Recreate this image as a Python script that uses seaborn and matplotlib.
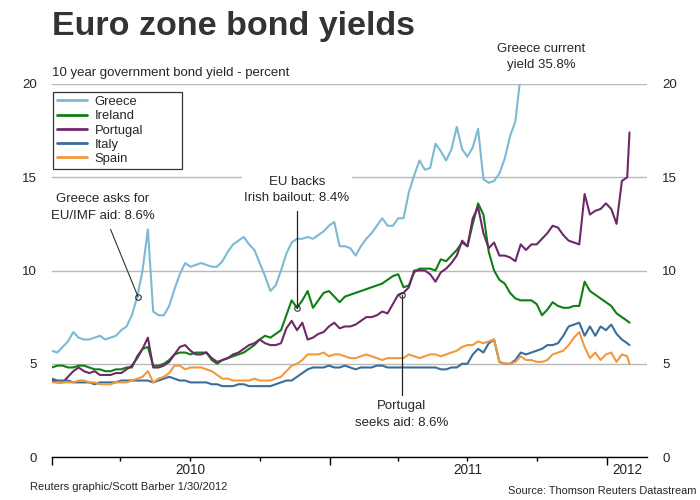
import numpy as np
import pandas as pd
import matplotlib
matplotlib.use("Agg")
import matplotlib.pyplot as plt
import matplotlib.dates as mdates
from matplotlib.lines import Line2D
from matplotlib import font_manager as fm
import seaborn as sns

# ---------------- data (weekly readings, % yield) ----------------
dates = list(pd.date_range("2010-01-01", periods=109, freq="7D")) + [pd.Timestamp("2012-01-30")]

greece = [5.7, 5.6, 5.9, 6.2, 6.7, 6.4, 6.3, 6.3, 6.4, 6.5,
          6.3, 6.4, 6.5, 6.8, 7.0, 7.6, 8.6, 10.0, 12.2, 7.8,
          7.6, 7.6, 8.1, 9.0, 9.8, 10.4, 10.2, 10.3, 10.4, 10.3,
          10.2, 10.2, 10.5, 11.0, 11.4, 11.6, 11.8, 11.4, 11.1, 10.4,
          9.7, 8.9, 9.2, 10.0, 10.9, 11.5, 11.7, 11.7, 11.8, 11.7,
          11.9, 12.1, 12.4, 12.6, 11.3, 11.3, 11.2, 10.8, 11.3, 11.7,
          12.0, 12.4, 12.8, 12.4, 12.4, 12.8, 12.8, 14.2, 15.1, 15.9,
          15.4, 15.5, 16.8, 16.4, 15.9, 16.5, 17.7, 16.5, 16.1, 16.6,
          17.6, 14.9, 14.7, 14.8, 15.2, 16.0, 17.2, 18.0, 20.5, 22.0,
          23.5, 24.0, 24.5, 23.5, 24.5, 25.5, 26.0, 27.0, 28.0, 27.5,
          29.0, 31.0, 32.0, 33.0, 34.0, 33.5, 34.0, 34.5, 35.2, 35.8]

ireland = [4.8, 4.9, 4.9, 4.8, 4.8, 4.9, 4.9, 4.8, 4.7, 4.7,
           4.6, 4.6, 4.7, 4.7, 4.8, 4.8, 5.4, 5.8, 5.9, 4.9,
           4.9, 5.0, 5.2, 5.5, 5.6, 5.6, 5.5, 5.6, 5.6, 5.6,
           5.2, 5.0, 5.2, 5.3, 5.4, 5.5, 5.6, 5.8, 6.0, 6.3,
           6.5, 6.4, 6.6, 6.8, 7.6, 8.4, 8.0, 8.4, 8.9, 8.0,
           8.4, 8.8, 8.9, 8.6, 8.3, 8.6, 8.7, 8.8, 8.9, 9.0,
           9.1, 9.2, 9.3, 9.5, 9.7, 9.8, 9.1, 9.2, 9.9, 10.1,
           10.1, 10.1, 10.0, 10.6, 10.5, 10.8, 11.1, 11.5, 11.3, 12.5,
           13.6, 13.0, 11.0, 10.0, 9.5, 9.3, 8.8, 8.5, 8.4, 8.4,
           8.4, 8.2, 7.6, 7.9, 8.3, 8.1, 8.0, 8.0, 8.1, 8.1,
           9.4, 8.9, 8.7, 8.5, 8.3, 8.1, 7.7, 7.5, 7.3, 7.2]

portugal = [4.1, 4.0, 4.0, 4.3, 4.6, 4.8, 4.6, 4.5, 4.6, 4.4,
            4.4, 4.4, 4.5, 4.5, 4.7, 4.9, 5.3, 5.8, 6.4, 4.8,
            4.8, 4.9, 5.1, 5.5, 5.9, 6.0, 5.7, 5.5, 5.5, 5.6,
            5.3, 5.1, 5.2, 5.3, 5.5, 5.6, 5.8, 6.0, 6.1, 6.3,
            6.1, 6.0, 6.0, 6.1, 6.9, 7.3, 6.8, 7.2, 6.3, 6.4,
            6.6, 6.7, 7.0, 7.2, 6.9, 7.0, 7.0, 7.1, 7.3, 7.5,
            7.5, 7.6, 7.8, 7.7, 8.2, 8.7, 8.8, 9.1, 10.0, 10.0,
            10.0, 9.8, 9.4, 9.9, 10.1, 10.4, 10.8, 11.6, 11.3, 12.8,
            13.4, 12.0, 11.2, 11.5, 10.8, 10.8, 10.7, 10.5, 11.4, 11.1,
            11.4, 11.4, 11.7, 12.0, 12.4, 12.3, 11.9, 11.6, 11.5, 11.4,
            14.1, 13.0, 13.2, 13.3, 13.6, 13.3, 12.5, 14.8, 15.0, 17.4]

italy = [4.2, 4.1, 4.1, 4.1, 4.0, 4.0, 4.0, 4.0, 3.9, 4.0,
         4.0, 4.0, 4.0, 4.1, 4.1, 4.1, 4.1, 4.1, 4.1, 4.0,
         4.1, 4.2, 4.3, 4.2, 4.1, 4.1, 4.0, 4.0, 4.0, 4.0,
         3.9, 3.9, 3.8, 3.8, 3.8, 3.9, 3.9, 3.8, 3.8, 3.8,
         3.8, 3.8, 3.9, 4.0, 4.1, 4.1, 4.3, 4.5, 4.7, 4.8,
         4.8, 4.8, 4.9, 4.8, 4.8, 4.9, 4.8, 4.7, 4.8, 4.8,
         4.8, 4.9, 4.9, 4.8, 4.8, 4.8, 4.8, 4.8, 4.8, 4.8,
         4.8, 4.8, 4.8, 4.7, 4.7, 4.8, 4.8, 5.0, 5.0, 5.5,
         5.8, 5.6, 6.1, 6.3, 5.1, 5.0, 5.0, 5.2, 5.6, 5.5,
         5.6, 5.7, 5.8, 6.0, 6.0, 6.1, 6.5, 7.0, 7.1, 7.2,
         6.5, 7.0, 6.5, 7.0, 6.8, 7.1, 6.6, 6.3, 6.1, 6.0]

spain = [4.0, 4.0, 4.0, 4.0, 4.0, 4.1, 4.1, 4.0, 4.0, 3.9,
         3.9, 3.9, 4.0, 4.0, 4.0, 4.1, 4.2, 4.3, 4.6, 4.0,
         4.2, 4.3, 4.5, 4.9, 4.9, 4.7, 4.8, 4.8, 4.8, 4.7,
         4.6, 4.4, 4.2, 4.2, 4.1, 4.1, 4.1, 4.1, 4.2, 4.1,
         4.1, 4.1, 4.2, 4.3, 4.6, 4.9, 5.0, 5.2, 5.5, 5.5,
         5.5, 5.6, 5.4, 5.5, 5.5, 5.4, 5.3, 5.3, 5.4, 5.5,
         5.4, 5.3, 5.2, 5.3, 5.3, 5.3, 5.3, 5.5, 5.4, 5.3,
         5.4, 5.5, 5.5, 5.4, 5.5, 5.6, 5.7, 5.9, 6.0, 6.0,
         6.2, 6.1, 6.2, 6.3, 5.1, 5.0, 5.0, 5.1, 5.4, 5.2,
         5.2, 5.1, 5.1, 5.2, 5.5, 5.6, 5.7, 6.0, 6.4, 6.7,
         5.9, 5.3, 5.6, 5.2, 5.5, 5.6, 5.1, 5.5, 5.4, 5.0]

countries = ["Greece", "Ireland", "Portugal", "Italy", "Spain"]
colors = ["#7db9d4", "#0f7f14", "#6e2868", "#3c6d99", "#f2983e"]
y_ticks = [0, 5, 10, 15, 20]
year_labels = ["2010", "2011", "2012"]

# annotation events: (date, value)
event_dates = ["2010-04-24", "2010-11-19", "2011-04-06"]
event_values = [8.6, 8.0, 8.7]

# ---------------- style ----------------
sns.set_style("white")
names = {f.name for f in fm.fontManager.ttflist}
REG = "Liberation Sans" if "Liberation Sans" in names else "DejaVu Sans"
NARROW = "Liberation Sans Narrow" if "Liberation Sans Narrow" in names else REG
plt.rcParams["font.family"] = [NARROW, "DejaVu Sans"]
TXT = "#262626"

W, H = 700, 500
fig = plt.figure(figsize=(7, 5), dpi=100)
ax = fig.add_axes([52 / W, 43 / H, 595 / W, 373 / H])

def fx(x):
    return x / W

def fy(y):
    return 1 - y / H

df = pd.DataFrame({
    "date": dates * len(countries),
    "yield": greece + ireland + portugal + italy + spain,
    "country": np.repeat(countries, len(dates)),
})
sns.lineplot(data=df, x="date", y="yield", hue="country", hue_order=countries,
             palette=colors, linewidth=1.5, ax=ax, legend=False, estimator=None,
             sort=True)

x0 = pd.Timestamp("2010-01-01")
x1 = pd.Timestamp("2012-02-22")
ax.set_xlim(x0, x1)
ax.set_ylim(0, 20)

for s in ["top", "right", "left"]:
    ax.spines[s].set_visible(False)
ax.spines["bottom"].set_color("black")
ax.spines["bottom"].set_linewidth(1.0)
ax.spines["bottom"].set_zorder(5)

ax.set_yticks(y_ticks)
ax.set_yticklabels([str(v) for v in y_ticks])
ax.yaxis.grid(True, color="#b9b9b9", linewidth=1.0)
ax.xaxis.grid(False)
ax.set_axisbelow(True)
ax.tick_params(axis="y", left=False, right=False, labelleft=True, labelright=True,
               pad=7.5, labelsize=9.5, labelcolor=TXT)

ax.xaxis.set_major_locator(mdates.YearLocator())
ax.xaxis.set_minor_locator(mdates.MonthLocator(bymonth=[4, 7, 10]))
ax.tick_params(axis="x", which="major", bottom=True, length=5.5, width=1, color="black",
               direction="out", labelbottom=False)
ax.tick_params(axis="x", which="minor", bottom=True, length=3, width=1, color="black",
               direction="out")
ax.set_xlabel("")
ax.set_ylabel("")

# year labels centred in visible part of each year
trans = matplotlib.transforms.blended_transform_factory(ax.transData, ax.transAxes)
year_centres = [pd.Timestamp("2010-07-02"), pd.Timestamp("2011-07-02"),
                pd.Timestamp("2012-01-01") + (x1 - pd.Timestamp("2012-01-01")) / 2]
for lab, xc in zip(year_labels, year_centres):
    ax.text(xc, -13 / 373, lab, transform=trans, ha="center", va="center",
            fontsize=9.8, color=TXT)

# legend
handles = [Line2D([0], [0], color=c, lw=2) for c in colors]
leg = ax.legend(handles, countries, loc="upper left",
                bbox_to_anchor=(1 / 595, (457 - 167) / 373, 129 / 595, 75 / 373),
                mode="expand", borderaxespad=0, frameon=True, fancybox=False,
                edgecolor="black", prop={"family": REG, "size": 9.4},
                handlelength=2.3, handletextpad=0.6, labelspacing=0.16,
                borderpad=0.3)
leg.get_frame().set_linewidth(0.9)
for t in leg.get_texts():
    t.set_color(TXT)

# annotations: leader lines and dots
ed = [pd.Timestamp(d) for d in event_dates]
ax.plot([pd.Timestamp("2010-03-19"), ed[0]], [12.2, event_values[0]], color="#333333",
        lw=0.8, clip_on=False, zorder=6)
ax.plot([ed[1], ed[1]], [13.2, event_values[1]], color="#222222", lw=0.9,
        clip_on=False, zorder=6)
ax.plot([ed[2], ed[2]], [event_values[2], 3.3], color="#222222", lw=0.9,
        clip_on=False, zorder=6)
ax.plot(ed, event_values, "o", ms=4, mfc="none", mec="#333333", mew=0.8, zorder=7,
        clip_on=False)

bb = dict(facecolor="white", edgecolor="none", pad=1.5)
ann_kw = dict(ha="center", va="center", fontsize=9.5, color=TXT, family=[REG, "DejaVu Sans"],
              linespacing=1.45, bbox=bb)
fig.text(fx(103), fy(207.5), "Greece asks for\nEU/IMF aid: 8.6%", **ann_kw)
fig.text(fx(297), fy(190), "EU backs\nIrish bailout: 8.4%", **ann_kw)
fig.text(fx(541), fy(57), "Greece current\nyield 35.8%", **ann_kw)
fig.text(fx(402), fy(414.5), "Portugal\nseeks aid: 8.6%", **ann_kw)

# titles and credits
fig.text(fx(52), fy(35), "Euro zone bond yields", fontsize=24.5, fontweight="bold",
         family=[REG, "DejaVu Sans"], color="#333333", va="baseline", ha="left")
fig.text(fx(52), fy(76), "10 year government bond yield - percent", fontsize=9.5,
         color=TXT, va="baseline", ha="left")
fig.text(fx(30), fy(487), "Reuters graphic/Scott Barber 1/30/2012", fontsize=8,
         color=TXT, va="center", ha="left")
fig.text(fx(697), fy(491), "Source: Thomson Reuters Datastream", fontsize=7.9,
         color=TXT, va="center", ha="right")

fig.savefig("out.png", dpi=100, facecolor="white")
